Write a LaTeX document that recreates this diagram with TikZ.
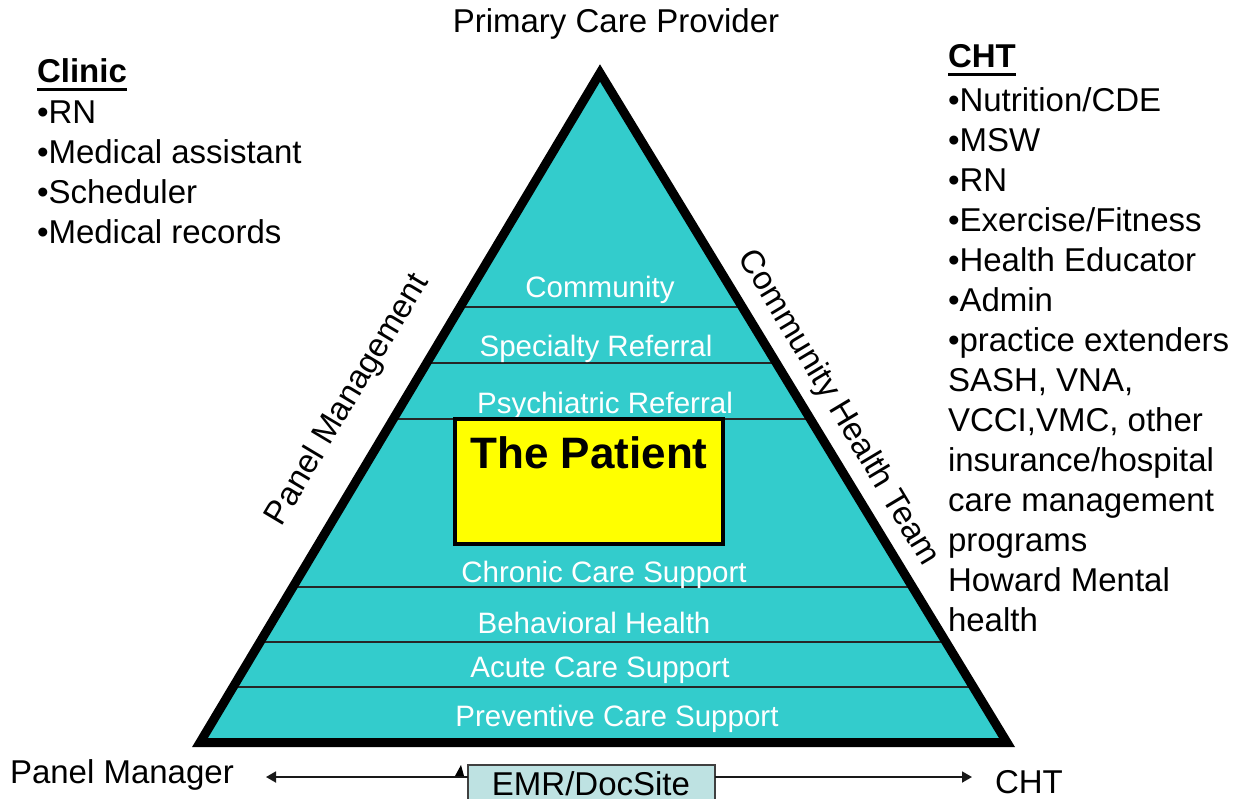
\documentclass[tikz,border=0pt]{standalone}
\usepackage{fontspec}
\setmainfont{Liberation Sans}
\usetikzlibrary{arrows.meta}
\definecolor{tealfill}{HTML}{33CCCC}
\definecolor{emrfill}{HTML}{BEE2E2}
\definecolor{emredge}{HTML}{404040}
\definecolor{patientyellow}{HTML}{FFFF00}
\begin{document}
\begin{tikzpicture}[x=1pt,y=-1pt,
  every node/.style={inner sep=0pt, outer sep=0pt},
  blk/.style={font=\fontsize{33}{40}\selectfont, text=black},
  listline/.style={blk, anchor=base west},
  lyr/.style={font=\fontsize{29.5}{35}\selectfont, text=white, anchor=base},
  sep/.style={draw=black!85, line width=1.8pt},
  arr/.style={draw=black!90, line width=1.8pt, -{Triangle[length=10pt,width=11pt]}},
  patientbox/.style={draw=black, line width=4pt, fill=patientyellow, minimum width=268pt, minimum height=125pt},
  emrbox/.style={draw=emredge, line width=2pt, fill=emrfill, minimum width=247pt, minimum height=40pt},
  uline/.style={line width=3pt}
]
\useasboundingbox (0,0) rectangle (1236,798);
\clip (0,0) rectangle (1236,798);

% triangle
\coordinate (apex) at (600,73);
\coordinate (bl) at (200,742.5);
\coordinate (br) at (1007,742.5);
\fill[tealfill] (apex) -- (bl) -- (br) -- cycle;
\begin{scope}
  \clip (apex) -- (bl) -- (br) -- cycle;
  \foreach \y in {307,363,419,587,642,687} \draw[sep] (150,\y) -- (1050,\y);
\end{scope}
\draw[line width=9pt, line join=miter] (apex) -- (bl) -- (br) -- cycle;

% layer labels
\node[lyr] (l1) at (600,297) {Community};
\node[lyr] (l2) at (596,356) {Specialty Referral};
\node[lyr] (l3) at (605,413) {Psychiatric Referral};
\node[lyr] (l4) at (604,582) {Chronic Care Support};
\node[lyr] (l5) at (594,633) {Behavioral Health};
\node[lyr] (l6) at (600,677) {Acute Care Support};
\node[lyr] (l7) at (617,726) {Preventive Care Support};

% patient box
\node[patientbox] (patient) at (589,481.5) {};
\node[anchor=base, font=\bfseries\fontsize{44}{50}\selectfont] (patienttext) at (589,468) {The Patient};

% edge labels
\node[blk, rotate=59.1] (pm) at (348,400) {Panel Management};
\node[blk, rotate=-59.1] (cht) at (838,408) {Community Health Team};
\node[blk, anchor=base] (pcp) at (616,32) {Primary Care Provider};

% clinic list
\node[listline, font=\bfseries\fontsize{33}{40}\selectfont] (clinic) at (37,82) {Clinic};
\draw[uline] ([yshift=-7pt]clinic.base west) -- ([yshift=-7pt]clinic.base east);
\node[listline] (c1) at (37,123) {•RN};
\node[listline] (c2) at (37,163) {•Medical assistant};
\node[listline] (c3) at (37,203) {•Scheduler};
\node[listline] (c4) at (37,243) {•Medical records};

% CHT list
\node[listline, font=\bfseries\fontsize{33}{40}\selectfont] (chthead) at (948,67) {CHT};
\draw[uline] ([yshift=-7pt]chthead.base west) -- ([yshift=-7pt]chthead.base east);
\foreach \t [count=\i] in {•Nutrition/CDE, •MSW, •RN, •Exercise/Fitness, •Health Educator, •Admin, •practice extenders, {SASH, VNA,}, {VCCI,VMC, other}, insurance/hospital, care management, programs, Howard Mental, health}
  \node[listline] (r\i) at (948,{71+40*\i}) {\t};

% bottom row
\node[emrbox, anchor=north] (emr) at (591.5,765) {};
\node[blk, anchor=base] (emrtext) at (591,795) {EMR/DocSite};
\node[blk, anchor=base west] (pmgr) at (10,783) {Panel Manager};
\node[blk, anchor=base west] (chtb) at (995,793) {CHT};
\coordinate (la) at (266,777);
\coordinate (ra) at (972,777);
\draw[arr] (emr.west |- la) -- (la);
\draw[arr] (emr.east |- ra) -- (ra);
\fill (455,776) -- (464,776) -- (461,765) -- cycle;
\end{tikzpicture}
\end{document}
